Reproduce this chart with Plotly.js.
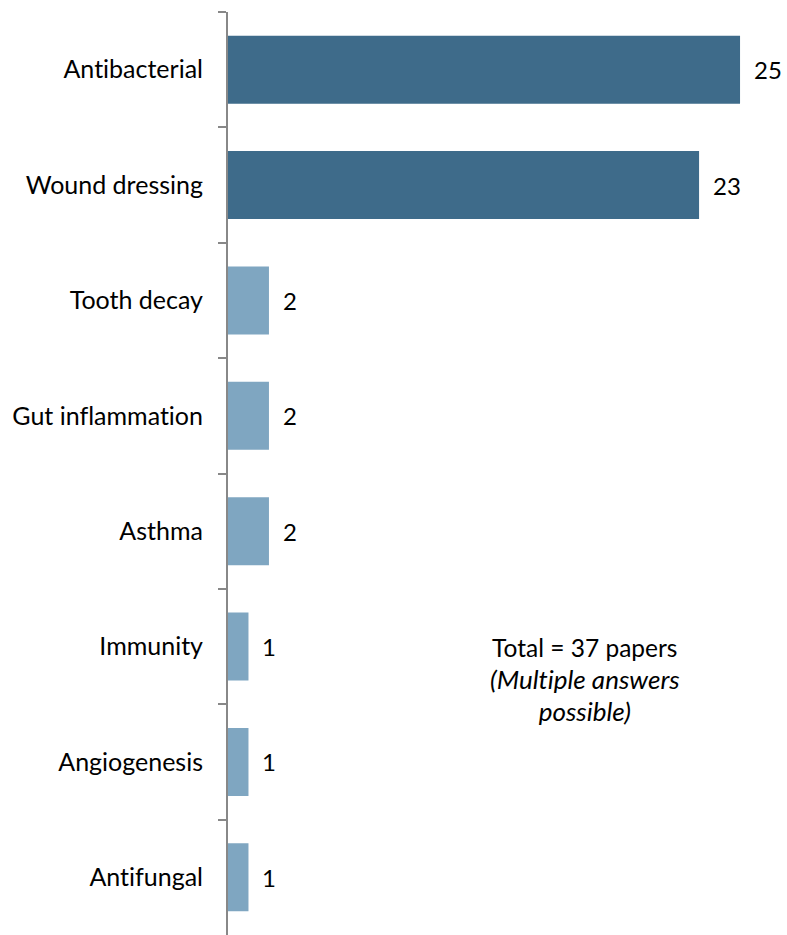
<!DOCTYPE html>
<html>
<head>
<meta charset="utf-8">
<script src="https://cdn.plot.ly/plotly-3.0.1.min.js"></script>
<style>html,body{margin:0;padding:0;background:#fff;}#chart{width:787px;height:935px;}
svg text{font-variant-ligatures:none;font-feature-settings:"liga" 0;}</style>
</head>
<body>
<div id="chart"></div>
<script>
var categories = ["Antibacterial", "Wound dressing", "Tooth decay", "Gut inflammation", "Asthma", "Immunity", "Angiogenesis", "Antifungal"];
var values = [25, 23, 2, 2, 2, 1, 1, 1];
var barColors = ["#3e6b8a", "#3e6b8a", "#7fa6c1", "#7fa6c1", "#7fa6c1", "#7fa6c1", "#7fa6c1", "#7fa6c1"];
var noteLines = ["Total = 37 papers", "<i><span style=\"font-size:26px\">(Multiple answers</span></i>", "<i><span style=\"font-size:26px\">possible)</span></i>"];

var FONT = "Lato, 'Open Sans', sans-serif";

var annotations = categories.map(function (c, i) {
  return {
    x: values[i], y: c, xref: 'x', yref: 'y',
    text: String(values[i]), showarrow: false,
    xanchor: 'left', yanchor: 'middle', xshift: 12,
    font: {family: FONT, size: 24, color: '#000'}
  };
});
annotations.push({
  x: 0.646, y: 0.276, xref: 'paper', yref: 'paper',
  text: noteLines.join('<br>'), showarrow: false,
  xanchor: 'center', yanchor: 'middle', align: 'center',
  font: {family: FONT, size: 24.5, color: '#000'}
});

Plotly.newPlot('chart', [{
  type: 'bar',
  orientation: 'h',
  x: values,
  y: categories,
  marker: {color: barColors},
  hoverinfo: 'none'
}], {
  width: 787, height: 935,
  margin: {l: 228, r: 6, t: 12, b: 0},
  paper_bgcolor: '#fff', plot_bgcolor: '#fff',
  bargap: 0.41,
  showlegend: false,
  xaxis: {range: [0, 27], visible: false, showgrid: false, zeroline: false},
  yaxis: {
    autorange: 'reversed',
    showline: true, linecolor: '#888888', linewidth: 2,
    ticks: 'outside', tickson: 'boundaries', ticklen: 8, tickwidth: 2, tickcolor: '#888888',
    showgrid: false, zeroline: false,
    ticklabelstandoff: 18,
    tickfont: {family: FONT, size: 25, color: '#000'}
  },
  annotations: annotations
}, {displayModeBar: false, staticPlot: true});
</script>
</body>
</html>
